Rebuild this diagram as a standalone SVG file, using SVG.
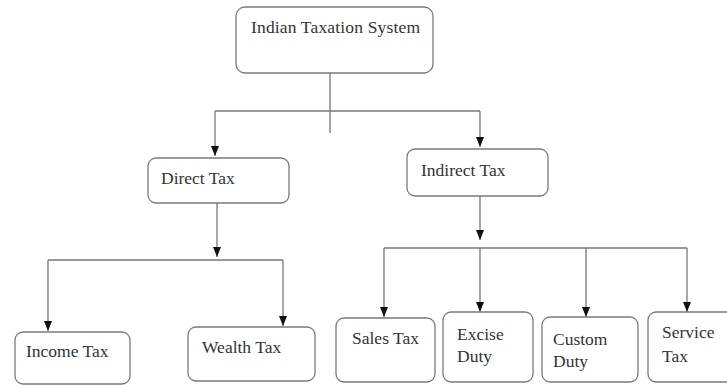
<svg xmlns="http://www.w3.org/2000/svg" width="727" height="385" viewBox="0 0 727 385">
<defs>
<marker id="arr" viewBox="0 0 10 8" refX="10" refY="4" markerWidth="10" markerHeight="8" markerUnits="userSpaceOnUse" orient="auto">
<path d="M0,0 L10,4 L0,8 Z" fill="#111"/>
</marker>
<style>
.box{fill:#fff;stroke:#7a7a7a;stroke-width:1.3}
.lbl{font-family:"Liberation Serif","Times New Roman",serif;font-size:17.5px;fill:#333}
.ln{fill:none;stroke:#777;stroke-width:1.3}
</style>
</defs>
<rect width="727" height="385" fill="#fff"/>
<g id="connectors">
<path class="ln" d="M330,73 V133"/>
<path class="ln" d="M215,111 H480"/>
<path class="ln" d="M215,111 V156" marker-end="url(#arr)"/>
<path class="ln" d="M480,111 V147" marker-end="url(#arr)"/>
<path class="ln" d="M217,203 V257" marker-end="url(#arr)"/>
<path class="ln" d="M48,260 H283"/>
<path class="ln" d="M48,260 V331" marker-end="url(#arr)"/>
<path class="ln" d="M283,260 V326" marker-end="url(#arr)"/>
<path class="ln" d="M480,196 V240" marker-end="url(#arr)"/>
<path class="ln" d="M384,248 H687"/>
<path class="ln" d="M384,248 V317" marker-end="url(#arr)"/>
<path class="ln" d="M480,248 V312" marker-end="url(#arr)"/>
<path class="ln" d="M586,248 V317" marker-end="url(#arr)"/>
<path class="ln" d="M687,248 V312" marker-end="url(#arr)"/>
</g>
<g id="n-indian-taxation-system">
<rect class="box" x="236" y="7" width="197" height="66" rx="9"/>
<text class="lbl" x="251" y="33" textLength="169">Indian Taxation System</text>
</g>
<g id="n-direct-tax">
<rect class="box" x="148" y="158" width="141" height="45" rx="8"/>
<text class="lbl" x="161" y="184">Direct Tax</text>
</g>
<g id="n-indirect-tax">
<rect class="box" x="407" y="149" width="141" height="47" rx="8"/>
<text class="lbl" x="421" y="176">Indirect Tax</text>
</g>
<g id="n-income-tax">
<rect class="box" x="15" y="332" width="115" height="52" rx="8"/>
<text class="lbl" x="26" y="357">Income Tax</text>
</g>
<g id="n-wealth-tax">
<rect class="box" x="188" y="327" width="127" height="54" rx="8"/>
<text class="lbl" x="202" y="353">Wealth Tax</text>
</g>
<g id="n-sales-tax">
<rect class="box" x="336" y="318" width="99" height="64" rx="8"/>
<text class="lbl" x="352" y="344">Sales Tax</text>
</g>
<g id="n-excise-duty">
<rect class="box" x="443" y="312" width="90" height="70" rx="8"/>
<text class="lbl" x="457" y="340">Excise</text>
<text class="lbl" x="457" y="362">Duty</text>
</g>
<g id="n-custom-duty">
<rect class="box" x="542" y="317" width="96" height="65" rx="8"/>
<text class="lbl" x="553" y="345">Custom</text>
<text class="lbl" x="553" y="367">Duty</text>
</g>
<g id="n-service-tax">
<rect class="box" x="648" y="312" width="90" height="70" rx="8"/>
<text class="lbl" x="662" y="338">Service</text>
<text class="lbl" x="662" y="362">Tax</text>
</g>
</svg>
